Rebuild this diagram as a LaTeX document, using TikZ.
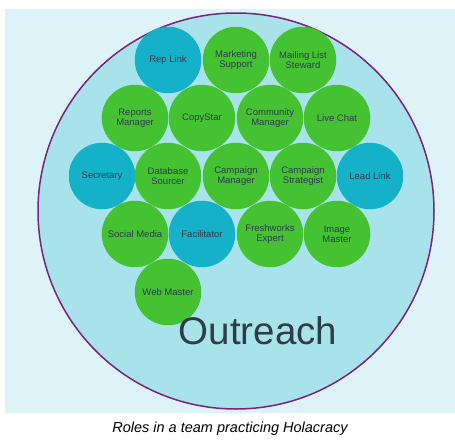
\documentclass[tikz,border=0pt]{standalone}
\usepackage{fontspec}
\setmainfont{Liberation Sans}
\usepackage{tikz}
\definecolor{panelBg}{RGB}{221,243,247}
\definecolor{teamFill}{RGB}{168,226,234}
\definecolor{teamRim}{RGB}{122,36,128}
\definecolor{roleGreen}{RGB}{68,194,50}
\definecolor{roleBlue}{RGB}{20,177,200}
\definecolor{roleText}{RGB}{45,60,75}

\begin{document}
\begin{tikzpicture}[x=1pt, y=-1pt, font=\fontsize{9.5}{9.6}\selectfont,
  role/.style={circle, minimum size=66.5pt, inner sep=0pt, text=roleText, align=center},
  rolegreen/.style={role, fill=roleGreen},
  roleblue/.style={role, fill=roleBlue}]
  \useasboundingbox (0,0) rectangle (455,440);
  \fill[panelBg] (5,9) rectangle (455,413);
  \node[circle, draw=teamRim, fill=teamFill, line width=1.5pt, minimum size=396pt, inner sep=0pt] (team) at (236,211) {};
  % first row
  \node[roleblue]  (replink)   at (168,60) {Rep Link};
  \node[rolegreen] (mktsupp)   at (236,60) {Marketing\\Support};
  \node[rolegreen] (mailing)   at (303,60) {Mailing List\\Steward};
  % second row
  \node[rolegreen] (reports)   at (135,118) {Reports\\Manager};
  \node[rolegreen] (copystar)  at (202,118) {CopyStar};
  \node[rolegreen] (community) at (270,118) {Community\\Manager};
  \node[rolegreen] (livechat)  at (337,118) {Live Chat};
  % third row
  \node[roleblue]  (secretary) at (102,176) {Secretary};
  \node[rolegreen] (database)  at (168,176) {Database\\Sourcer};
  \node[rolegreen] (campmgr)   at (236,176) {Campaign\\Manager};
  \node[rolegreen] (campstrat) at (303,176) {Campaign\\Strategist};
  \node[roleblue]  (leadlink)  at (370,176) {Lead Link};
  % fourth row
  \node[rolegreen] (social)    at (135,234) {Social Media};
  \node[roleblue]  (facil)     at (202,234) {Facilitator};
  \node[rolegreen] (freshw)    at (270,234) {Freshworks\\Expert};
  \node[rolegreen] (image)     at (337,234) {Image\\Master};
  % last row
  \node[rolegreen] (webmaster) at (168,292) {Web Master};
  \node[text=roleText, font=\fontsize{38.5}{38.5}\selectfont] (outreach) at (258,331) {Outreach};
  \node[font=\fontsize{14.5}{14.5}\selectfont\itshape] (caption) at (230,429) {Roles in a team practicing Holacracy};
\end{tikzpicture}
\end{document}
